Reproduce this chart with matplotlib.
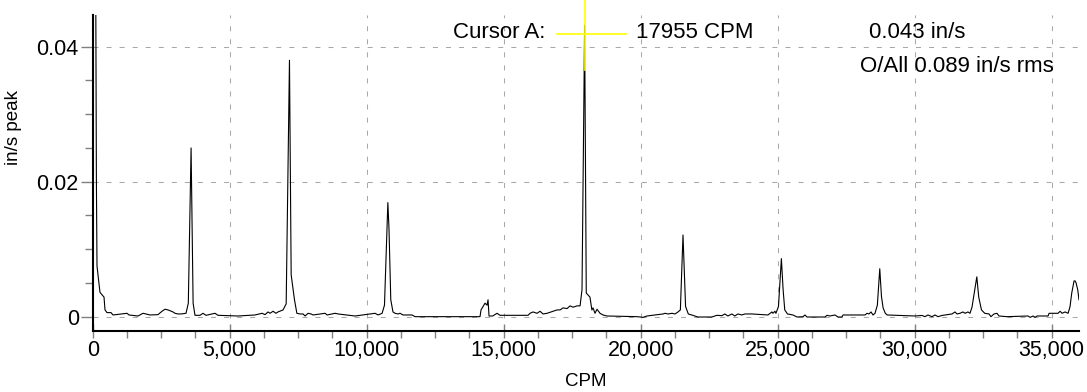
"""
Vibration spectrum (in/s peak vs CPM) with cursor readout.
"""

import numpy as np
import matplotlib
matplotlib.use('Agg')
import matplotlib.pyplot as plt
from matplotlib.ticker import MultipleLocator, FuncFormatter

plt.rcParams['font.family'] = ['Liberation Sans', 'DejaVu Sans']
plt.rcParams['lines.scale_dashes'] = False

# spectrum trace: frequency (CPM) and amplitude (in/s peak)
cpm = [0, 110, 135, 157, 266, 413, 449, 522, 558, 668, 741,
       1252, 1325, 1654, 1836, 1946, 2091, 2383, 2530, 2639, 2749, 2931, 3004, 3114, 3223,
       3406, 3490, 3591, 3665, 3734,                     # 1x
       3917, 4026, 4136, 4464, 4574, 5304, 5924, 6180, 6290, 6399, 6472, 6582, 6691, 6764,
       6947, 7062, 7182, 7244, 7365, 7452,               # 2x
       7569, 7679, 7752, 7862, 7971, 8044, 8482, 8555, 8847, 8957, 9577, 10308, 10417,
       10563, 10650, 10773, 10815, 10880, 10960, 11035,  # 3x
       11144, 11217, 11327, 11655, 11765, 14137,
       14174, 14320, 14393, 14430, 14466,                # 4x
       14600, 14758, 14868, 15890, 15963, 16073, 16219, 16328, 16438, 16584, 16803, 16949,
       17059, 17168, 17314, 17424, 17534, 17680, 17789,
       17860, 17955, 18015, 18150, 18220,                # 5x
       18261, 18334, 18407, 18517, 18626, 18772, 19867, 20086, 20232, 20816, 20889, 20999,
       21145, 21254, 21364,
       21450, 21546, 21640, 21740,                       # 6x
       21905, 22087, 22598, 22781, 22964, 23074, 23183, 23329, 23439, 23548, 23694, 23804,
       24059, 24646, 24792, 24828, 24901, 24938,
       25030, 25137, 25200, 25260, 25360,                # 7x
       25560, 25706, 25925, 25998, 26071, 26728, 26801, 26911, 27093, 27203, 27349, 27386,
       28189, 28262, 28335, 28408, 28481, 28554,
       28640, 28728, 28790, 28850, 28930,                # 8x
       29000, 30013, 30269, 30378, 30488, 30634, 30743, 30853, 30999, 31108, 31364, 31474,
       31547, 31656, 31766, 31839, 31948, 32021,
       32094, 32270, 32340, 32440, 32560,                # 9x
       32714, 32787, 32897, 33006, 33079, 33371, 34141, 34214, 34324, 34397, 34470, 34871,
       34908, 35236, 35310, 35383, 35492, 35602,
       35673, 35735, 35820, 35857, 35893, 35953, 36000]  # 10x

vel = [0.080, 0.050, 0.020, 0.0075, 0.0036, 0.0029, 0.0010, 0.0006, 0.0006, 0.0006, 0.00025,
       0.0005, 0.00025, 0.0001, 0.0005, 0.0004, 0.00025, 0.0003, 0.0008, 0.0011, 0.0010, 0.0007, 0.0005, 0.0004, 0.0004,
       0.0005, 0.0020, 0.0250, 0.0020, 0.0002,
       0.0002, 0.0005, 0.0002, 0.0005, 0.0002, 0.0001, 0.00025, 0.0005, 0.0003, 0.0007, 0.0005, 0.0008, 0.0005, 0.0007,
       0.0010, 0.0019, 0.0380, 0.0062, 0.0025, 0.0005,
       0.0004, 0.0004, 0.0001, 0.0005, 0.0004, 0.00025, 0.0005, 0.00025, 0.0005, 0.0004, 0.0001, 0.0005, 0.00025,
       0.0005, 0.0017, 0.0169, 0.0130, 0.0025, 0.0007, 0.0005,
       0.0004, 0.0005, 0.00025, 0.00025, 0.0, 0.0,
       0.0010, 0.0020, 0.0017, 0.0025, 0.0001,
       0.0001, 0.0005, 0.0002, 0.0002, 0.0005, 0.0007, 0.0005, 0.0008, 0.0004, 0.0005, 0.0008, 0.0010,
       0.0010, 0.0013, 0.0012, 0.0016, 0.0014, 0.0016, 0.0016,
       0.0040, 0.0432, 0.0035, 0.0029, 0.0010,
       0.0013, 0.0005, 0.0011, 0.0005, 0.00025, 0.0001, 0.0, -0.0001, 0.0001, 0.0004, 0.0005, 0.0004,
       0.0005, 0.0004, 0.0007,
       0.0010, 0.0121, 0.0015, 0.0004,
       0.0002, -0.00005, -0.00005, 0.0002, 0.00015, 0.0004, 0.0001, 0.0004, 0.0001, 0.0004, 0.00025, 0.0004,
       0.0004, 0.00025, 0.0007, 0.0005, 0.0008, 0.0005,
       0.0015, 0.0086, 0.0040, 0.0010, 0.0004,
       0.00025, -0.00005, 0.0, 0.00025, -0.00005, -0.00005, 0.0002, 0.0001, 0.00025, -0.00005, -0.00005, 0.00025,
       0.00025, 0.0005, 0.0004, 0.0007, 0.00025, 0.0005,
       0.0017, 0.0071, 0.0030, 0.0013, 0.0005,
       0.00025, 0.0001, 0.00018, 0.0, 0.00025, 0.0, 0.00025, 0.0, 0.00018, 0.00025, 0.0004, 0.0007,
       0.0004, 0.0005, 0.0007, 0.0005, 0.0007, 0.0005,
       0.0014, 0.0059, 0.0029, 0.0010, 0.0005,
       0.0004, 0.0, 0.0004, 0.0005, 0.0001, 0.0, 0.0001, -0.0001, 0.0001, -0.0001, 0.0001, 0.0001,
       0.0005, 0.0005, 0.0008, 0.0005, 0.0007, 0.0005,
       0.0015, 0.0035, 0.0053, 0.0053, 0.0050, 0.0040, 0.0025]

cursor_cpm = 17955
cursor_vel = 0.0419
cursor_text = ['Cursor A:', '17955 CPM', '0.043 in/s']
overall_text = 'O/All 0.089 in/s rms'

W, H = 1087, 392
fig = plt.figure(figsize=(W / 100, H / 100), dpi=100)
ax = fig.add_axes([92.7 / W, (H - 330.5) / H, (1079 - 92.7) / W, (330.5 - 15) / H])

ax.plot(cpm, vel, color='black', lw=0.8, zorder=3)

ax.set_xlim(0, 36000)
ax.set_ylim(-0.00205, 0.0447)

# axes look
for s in ['top', 'right']:
    ax.spines[s].set_visible(False)
for s in ['left', 'bottom']:
    ax.spines[s].set_linewidth(1.5)
    ax.spines[s].set_zorder(4)

ax.xaxis.set_major_locator(MultipleLocator(5000))
ax.xaxis.set_minor_locator(MultipleLocator(1250))
ax.yaxis.set_major_locator(MultipleLocator(0.02))
ax.yaxis.set_minor_locator(MultipleLocator(0.005))
ax.xaxis.set_major_formatter(FuncFormatter(lambda v, p: f'{int(v):,}'))
ax.yaxis.set_major_formatter(FuncFormatter(lambda v, p: '0' if abs(v) < 1e-9 else f'{v:g}'))

ax.tick_params(axis='x', which='major', direction='inout', length=10, width=1,
               color='#808080', labelsize=15.5, pad=2)
ax.tick_params(axis='x', which='minor', direction='out', length=5, width=1, color='#808080')
ax.tick_params(axis='y', which='major', direction='out', length=9, width=1,
               color='#808080', labelsize=15.5, pad=1)
ax.tick_params(axis='y', which='minor', direction='out', length=6, width=1, color='#808080')

ax.grid(True, which='major', color='#a8a8a8', lw=0.75, linestyle=(0, (3.6, 5.8)))
ax.set_axisbelow(True)

ax.set_xlabel('CPM', fontsize=13.5)
ax.set_ylabel('in/s peak', fontsize=13.5)
ax.xaxis.set_label_coords(0.5, -0.163, transform=ax.transAxes)
ax.yaxis.set_label_coords(-0.0798, 0.645, transform=ax.transAxes)
ax.xaxis.label.set_va('center')
ax.yaxis.label.set_va('center')

# cursor cross-hair
ax.plot([cursor_cpm - 1000, cursor_cpm + 1500], [cursor_vel, cursor_vel],
        color='#ffff00', lw=1.2, clip_on=False, zorder=5)
ax.plot([cursor_cpm, cursor_cpm], [0.0365, 0.047],
        color='#ffff00', lw=1.2, clip_on=False, zorder=5)

# readout text
fig.text(499.5 / W, 1 - 33 / H, cursor_text[0], fontsize=16, va='center', ha='center')
fig.text(695 / W, 1 - 33 / H, cursor_text[1], fontsize=16, va='center', ha='center')
fig.text(917.5 / W, 1 - 33 / H, cursor_text[2], fontsize=16, va='center', ha='center')
fig.text(957 / W, 1 - 67 / H, overall_text, fontsize=16, va='center', ha='center')

plt.savefig('out.png', dpi=100)
